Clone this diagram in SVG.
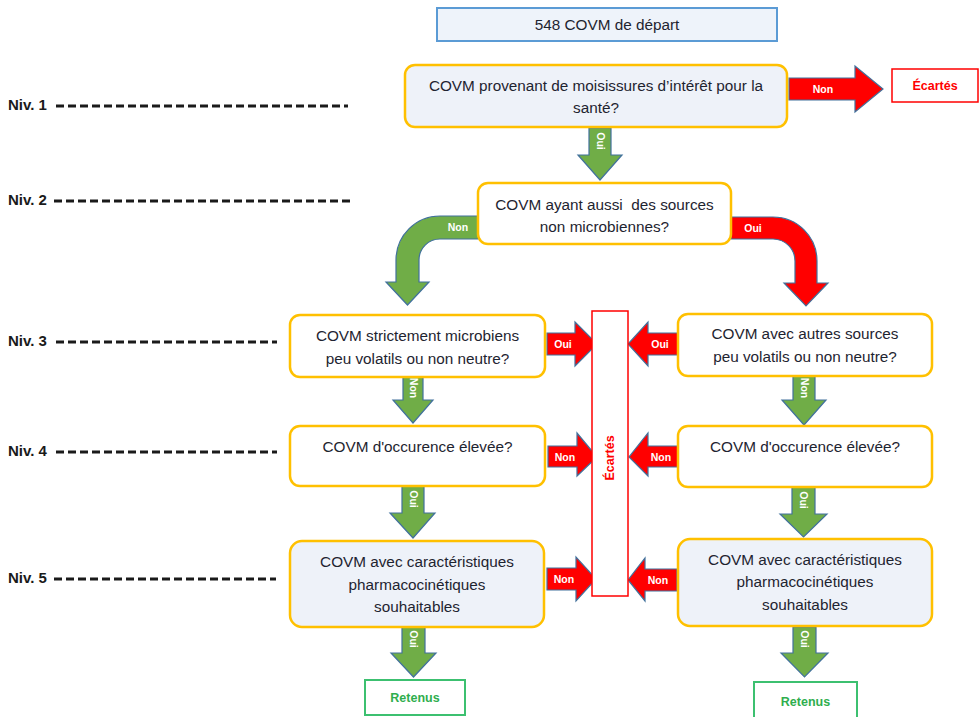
<svg xmlns="http://www.w3.org/2000/svg" width="980" height="717" viewBox="0 0 980 717">
<style>
.bg{fill:#ffffff}
.q{fill:#ffffff;stroke:#ffc000;stroke-width:2.5}
.qb{fill:#eef2f9;stroke:#ffc000;stroke-width:2.5}
.start{fill:#eef3fa;stroke:#5b9bd5;stroke-width:2}
.out{fill:#ffffff;stroke:#ff0000;stroke-width:1.5}
.ret{fill:#ffffff;stroke:#3cc070;stroke-width:2}
.t{font-family:"Liberation Sans",Arial,sans-serif;font-size:15.3px;fill:#1e2430;text-anchor:middle}
.lv{font-family:"Liberation Sans",Arial,sans-serif;font-size:15px;font-weight:bold;fill:#1a1a1a}
.red{font-family:"Liberation Sans",Arial,sans-serif;font-size:12.5px;font-weight:bold;fill:#ff0000;text-anchor:middle}
.grn{font-family:"Liberation Sans",Arial,sans-serif;font-size:12.5px;font-weight:bold;fill:#2fae4e;text-anchor:middle}
.al{font-family:"Liberation Sans",Arial,sans-serif;font-size:10.5px;font-weight:bold;fill:#ffffff;text-anchor:middle}
.ga{fill:#70ad47;stroke:#41719c;stroke-width:1.2}
.ra{fill:#ff0000;stroke:#41719c;stroke-width:1.2}
.dash{stroke:#1a1a1a;stroke-width:2.8;stroke-dasharray:8 4}
</style>
<rect class="bg" x="0" y="0" width="980" height="717"/>

<g id="levels">
  <text class="lv" x="8" y="110">Niv. 1</text>
  <line class="dash" x1="56" y1="106" x2="348" y2="106"/>
  <text class="lv" x="8" y="205">Niv. 2</text>
  <line class="dash" x1="54" y1="201" x2="353" y2="201"/>
  <text class="lv" x="8" y="346">Niv. 3</text>
  <line class="dash" x1="56" y1="342" x2="277" y2="342"/>
  <text class="lv" x="8" y="456">Niv. 4</text>
  <line class="dash" x1="56" y1="452" x2="277" y2="452"/>
  <text class="lv" x="8" y="583">Niv. 5</text>
  <line class="dash" x1="54" y1="579" x2="276" y2="579"/>
</g>

<g id="connectors">
  <!-- Niv1 Non -> Ecartes -->
  <path class="ra" d="M789 78 L855 78 L855 66 L883 89 L855 112 L855 100 L789 100 Z"/>
  <text class="al" x="823" y="93">Non</text>
  <!-- Niv1 Oui down -->
  <path class="ga" d="M589 128 L611 128 L611 155 L622 155 L600 180 L578 155 L589 155 Z"/>
  <text class="al" transform="translate(600,141) rotate(90)" y="3.5">Oui</text>
  <!-- Niv2 Non curved left -->
  <path class="ga" d="M478 216 L440 216 A44 44 0 0 0 396 260 L396 282 L386 282 L407.5 305 L429 282 L419 282 L419 260 A21 21 0 0 1 440 239 L478 239 Z"/>
  <text class="al" x="458" y="231">Non</text>
  <!-- Niv2 Oui curved right -->
  <path class="ra" d="M731 217 L773 217 A44 44 0 0 1 817 261 L817 283 L828 283 L806 306 L784 283 L795 283 L795 261 A22 22 0 0 0 773 239 L731 239 Z"/>
  <text class="al" x="753" y="232">Oui</text>

  <!-- Left column -->
  <path class="ra" d="M547 333 L575 333 L575 322 L597 344 L575 366 L575 355 L547 355 Z"/>
  <text class="al" x="563" y="348">Oui</text>
  <path class="ga" d="M403 377 L423 377 L423 400 L433 400 L413 423 L393 400 L403 400 Z"/>
  <text class="al" transform="translate(413,388) rotate(90)" y="3.5">Non</text>
  <path class="ra" d="M548 446 L577 446 L577 433 L597 457 L577 476 L577 467 L548 467 Z"/>
  <text class="al" x="565" y="461">Non</text>
  <path class="ga" d="M402 486 L424 486 L424 513 L435 513 L413 538 L390 513 L402 513 Z"/>
  <text class="al" transform="translate(413,499) rotate(90)" y="3.5">Oui</text>
  <path class="ra" d="M547 568 L576 568 L576 557 L596 579 L576 601 L576 590 L547 590 Z"/>
  <text class="al" x="564" y="583">Non</text>
  <path class="ga" d="M402 627 L425 627 L425 653 L436 653 L413.5 677 L391 653 L402 653 Z"/>
  <text class="al" transform="translate(413.5,639) rotate(90)" y="3.5">Oui</text>

  <!-- Right column -->
  <path class="ra" d="M678 333 L648 333 L648 322 L628 344 L648 366 L648 355 L678 355 Z"/>
  <text class="al" x="660" y="348">Oui</text>
  <path class="ga" d="M793 376 L815 376 L815 400 L826 400 L804 425 L782 400 L793 400 Z"/>
  <text class="al" transform="translate(804,388) rotate(90)" y="3.5">Non</text>
  <path class="ra" d="M678 446 L648 446 L648 433 L629 457 L648 476 L648 467 L678 467 Z"/>
  <text class="al" x="661" y="461">Non</text>
  <path class="ga" d="M792 487 L815 487 L815 514 L827 514 L803.5 537 L780 514 L792 514 Z"/>
  <text class="al" transform="translate(803.5,500) rotate(90)" y="3.5">Oui</text>
  <path class="ra" d="M677 569 L645 569 L645 558 L628 580 L645 601 L645 591 L677 591 Z"/>
  <text class="al" x="658" y="584">Non</text>
  <path class="ga" d="M793 627 L816 627 L816 653 L828 653 L804.5 677 L781 653 L793 653 Z"/>
  <text class="al" transform="translate(804.5,639) rotate(90)" y="3.5">Oui</text>
</g>

<g id="start">
  <rect class="start" x="437" y="8" width="340" height="33"/>
  <text class="t" x="607" y="30">548 COVM de départ</text>
</g>

<g id="q1">
  <rect class="qb" x="405" y="65" width="382" height="62" rx="10"/>
  <text class="t" x="596" y="91">COVM provenant de moisissures d’intérêt pour la</text>
  <text class="t" x="596" y="113">santé?</text>
</g>

<g id="ecartes1">
  <rect class="out" x="892" y="69" width="86" height="33"/>
  <text class="red" x="935" y="90">Écartés</text>
</g>

<g id="q2">
  <rect class="q" x="478" y="183" width="253" height="61" rx="10"/>
  <text class="t" x="604.5" y="210" xml:space="preserve">COVM ayant aussi  des sources</text>
  <text class="t" x="604.5" y="232">non microbiennes?</text>
</g>

<g id="q3l">
  <rect class="q" x="290" y="315" width="255" height="62" rx="10"/>
  <text class="t" x="417.5" y="341">COVM strictement microbiens</text>
  <text class="t" x="417.5" y="364">peu volatils ou non neutre?</text>
</g>

<g id="q3r">
  <rect class="q" x="678" y="314" width="254" height="62" rx="10"/>
  <text class="t" x="805" y="339">COVM avec autres sources</text>
  <text class="t" x="805" y="362">peu volatils ou non neutre?</text>
</g>

<g id="q4l">
  <rect class="q" x="290" y="426" width="255" height="60" rx="10"/>
  <text class="t" x="417.5" y="452">COVM d'occurence élevée?</text>
</g>

<g id="q4r">
  <rect class="q" x="678" y="426" width="254" height="61" rx="10"/>
  <text class="t" x="805" y="452">COVM d'occurence élevée?</text>
</g>

<g id="q5l">
  <rect class="qb" x="290" y="541" width="254" height="86" rx="12"/>
  <text class="t" x="417" y="567">COVM avec caractéristiques</text>
  <text class="t" x="417" y="590">pharmacocinétiques</text>
  <text class="t" x="417" y="612">souhaitables</text>
</g>

<g id="q5r">
  <rect class="qb" x="678" y="539" width="254" height="87" rx="12"/>
  <text class="t" x="805" y="565">COVM avec caractéristiques</text>
  <text class="t" x="805" y="587">pharmacocinétiques</text>
  <text class="t" x="805" y="610">souhaitables</text>
</g>

<g id="ecartes2">
  <rect class="out" x="592" y="311" width="36" height="285"/>
  <text class="red" transform="translate(610,458) rotate(-90)" y="4">Écartés</text>
</g>

<g id="retenus-l">
  <rect class="ret" x="365" y="680" width="100" height="35"/>
  <text class="grn" x="415" y="702">Retenus</text>
</g>

<g id="retenus-r">
  <rect class="ret" x="754" y="682" width="103" height="36"/>
  <text class="grn" x="805.5" y="706">Retenus</text>
</g>
</svg>
